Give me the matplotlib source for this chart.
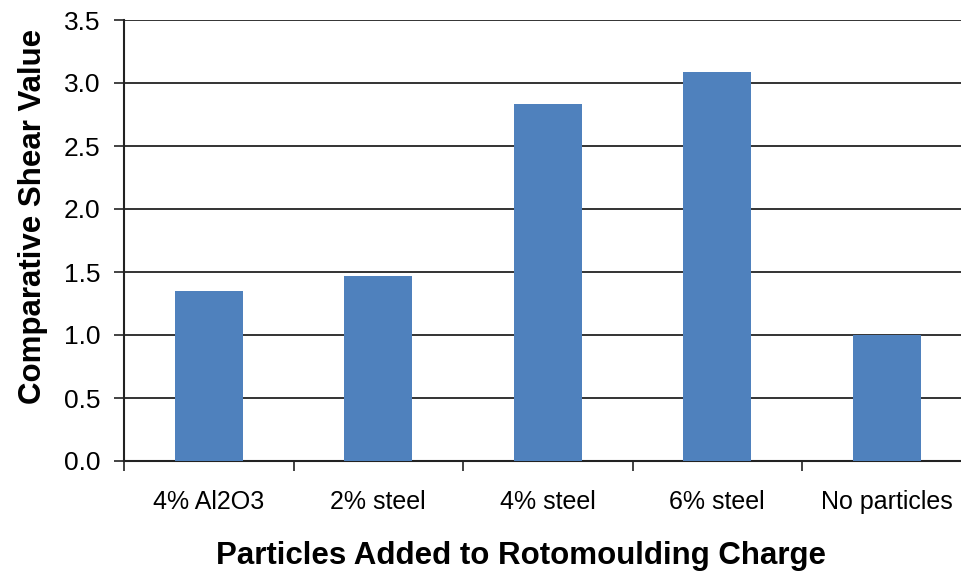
import matplotlib
matplotlib.use("Agg")
import matplotlib.pyplot as plt
import numpy as np

categories = ["4% Al2O3", "2% steel", "4% steel", "6% steel", "No particles"]
values = [1.35, 1.47, 2.83, 3.09, 1.0]
yticks = [0.0, 0.5, 1.0, 1.5, 2.0, 2.5, 3.0, 3.5]

plt.rcParams['font.family'] = ['Liberation Sans', 'DejaVu Sans']

fig = plt.figure(figsize=(9.62, 5.74), dpi=100)
ax = fig.add_axes([124/962, 1 - 461/574, 847.5/962, 441/574])

x = np.arange(len(categories))
ax.bar(x, values, width=0.4, color="#4F81BD", zorder=3)

ax.set_xlim(-0.5, len(categories) - 0.5)
ax.set_ylim(0, 3.5)
ax.set_yticks(yticks)
ax.set_yticklabels([f"{v:.1f}" for v in yticks], fontsize=19)
ax.yaxis.grid(True, color="#333333", linewidth=1.4, zorder=0)

ax.set_xticks(np.arange(-0.5, len(categories) - 0.4, 1.0))
ax.set_xticklabels([])
ax.set_xticks(x, minor=True)
ax.set_xticklabels(categories, minor=True, fontsize=18)
ax.tick_params(axis='x', which='minor', length=0, pad=21)
ax.tick_params(axis='x', which='major', length=7, width=1.2, color="#222222")
ax.tick_params(axis='y', length=7, width=1.2, color="#222222", pad=10)

for s in ["top", "right"]:
    ax.spines[s].set_visible(False)
for s in ["left", "bottom"]:
    ax.spines[s].set_color("#222222")
    ax.spines[s].set_linewidth(1.5)

ax.set_ylabel("Comparative Shear Value", fontsize=22.5, fontweight="bold")
ax.set_xlabel("Particles Added to Rotomoulding Charge", fontsize=22.5, fontweight="bold")
ax.xaxis.set_label_coords((521 - 124) / 847.5, -(556 - 461) / 441)
ax.xaxis.label.set_va("center")
ax.yaxis.set_label_coords(-(124 - 33) / 847.5, (461 - 216) / 441)
ax.yaxis.label.set_va("center")

fig.savefig("out.png", dpi=100)
